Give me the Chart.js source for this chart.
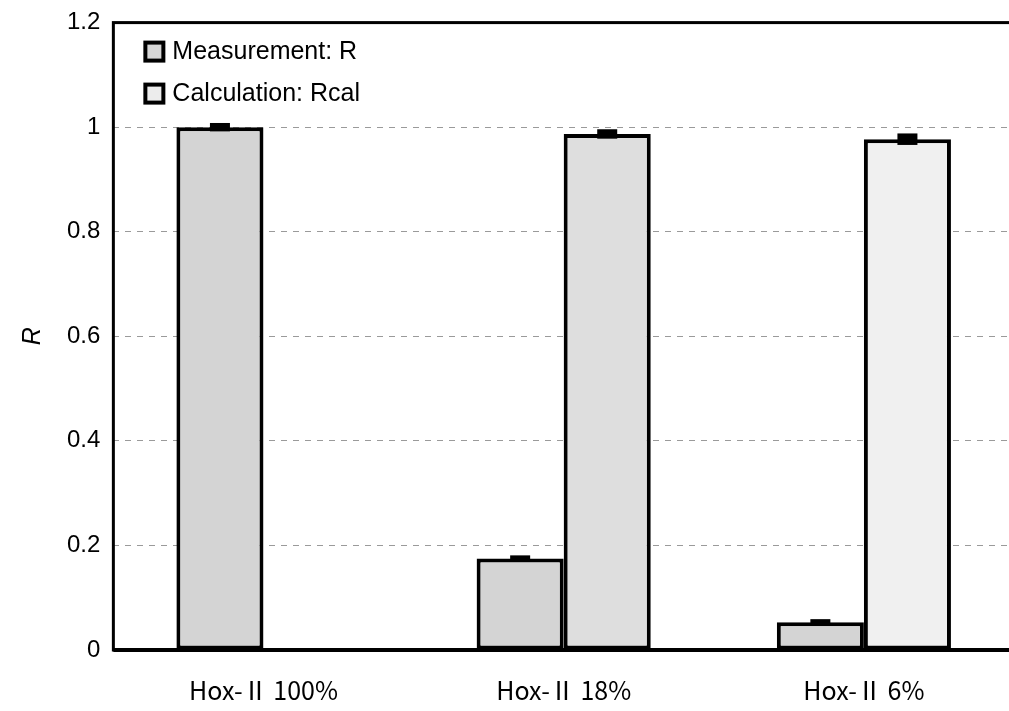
<!DOCTYPE html>
<html>
<head>
<meta charset="utf-8">
<script src="https://cdn.jsdelivr.net/npm/chart.js@4.4.1/dist/chart.umd.min.js"></script>
<style>
  html, body { margin: 0; padding: 0; background: #fff; overflow: hidden; }
  canvas { display: block; }
</style>
</head>
<body>
<canvas id="chart" width="1030" height="711"></canvas>
<script>
const categories = ['Hox-\u2161 100%', 'Hox-\u2161 18%', 'Hox-\u2161 6%'];
const measured = [1.0, 0.175, 0.053];
const measuredErr = [0.008, 0.006, 0.006];
const calculated = [null, 0.987, 0.977];
const calculatedErr = [null, 0.009, 0.011];
const yTicks = [0, 0.2, 0.4, 0.6, 0.8, 1, 1.2];
const seriesNames = ['Measurement: R', 'Calculation: Rcal'];

const legendFill = ['#d6d6d6', '#ececec'];

// little error caps drawn as solid black blocks, like the original
const errorBars = {
  id: 'errorBars',
  afterDatasetsDraw(chart) {
    const ctx = chart.ctx;
    const y = chart.scales.y;
    const errs = [measuredErr, calculatedErr];
    ctx.save();
    ctx.fillStyle = '#000';
    chart.data.datasets.forEach((ds, i) => {
      chart.getDatasetMeta(i).data.forEach((bar, j) => {
        const v = ds.data[j];
        const e = errs[i][j];
        if (v == null || e == null) return;
        const top = y.getPixelForValue(v + e);
        const bot = y.getPixelForValue(v - e);
        ctx.fillRect(bar.x - 10, top, 20, Math.max(bot - top, 6));
      });
    });
    ctx.restore();
  }
};

const frame = {
  id: 'frame',
  afterDraw(chart) {
    const a = chart.chartArea;
    const ctx = chart.ctx;
    ctx.save();
    ctx.strokeStyle = '#000';
    ctx.lineWidth = 3;
    ctx.strokeRect(a.left, a.top, a.right - a.left, a.bottom - a.top);
    ctx.lineWidth = 4;
    ctx.beginPath();
    ctx.moveTo(a.left, a.bottom);
    ctx.lineTo(a.right, a.bottom);
    ctx.stroke();

    // legend inside the plot, top left
    ctx.font = '25px "Liberation Sans", Arial, sans-serif';
    ctx.textBaseline = 'middle';
    chart.data.datasets.forEach((ds, i) => {
      const bx = a.left + 32, by = a.top + 20 + i * 42;
      ctx.fillStyle = legendFill[i];
      ctx.fillRect(bx, by, 18, 18);
      ctx.lineWidth = 4;
      ctx.strokeStyle = '#000';
      ctx.strokeRect(bx, by, 18, 18);
      ctx.fillStyle = '#000';
      ctx.fillText(ds.label, bx + 27, by + 10);
    });
    ctx.restore();
  }
};

new Chart(document.getElementById('chart'), {
  type: 'bar',
  data: {
    labels: categories,
    datasets: [
      {
        label: seriesNames[0],
        data: measured,
        backgroundColor: '#d4d4d4',
        borderColor: '#000',
        borderWidth: 4,
        borderSkipped: false
      },
      {
        label: seriesNames[1],
        data: calculated,
        backgroundColor: ['#ffffff', '#dedede', '#f0f0f0'],
        borderColor: '#000',
        borderWidth: 4,
        borderSkipped: false
      }
    ]
  },
  options: {
    responsive: false,
    animation: false,
    layout: { padding: { top: 0, left: 16, right: 16, bottom: 0 } },
    categoryPercentage: 0.58,
    barPercentage: 1.0,
    plugins: {
      legend: { display: false },
      tooltip: { enabled: false }
    },
    scales: {
      x: {
        grid: { display: false, drawTicks: false },
        border: { display: false },
        afterFit(scale) { scale.height = 61; },
        ticks: {
          color: '#000',
          padding: 25,
          font: { family: '"Noto Sans CJK JP", sans-serif', size: 25 }
        }
      },
      y: {
        min: 0,
        max: 1.2,
        afterBuildTicks(axis) {
          axis.ticks = yTicks.map(v => ({ value: v }));
        },
        grid: {
          drawTicks: false,
          color: '#9a9a9a',
          lineWidth: 1
        },
        border: { display: false, dash: [6, 6] },
        ticks: {
          color: '#000',
          padding: 13,
          font: { family: '"Liberation Sans", Arial, sans-serif', size: 24, lineHeight: 0.8 },
          callback: v => String(v)
        },
        title: {
          display: true,
          text: 'R',
          color: '#000',
          padding: { top: 2, bottom: 6 },
          font: { family: '"Liberation Sans", Arial, sans-serif', size: 25, style: 'italic' }
        }
      }
    }
  },
  plugins: [errorBars, frame]
});
</script>
</body>
</html>
